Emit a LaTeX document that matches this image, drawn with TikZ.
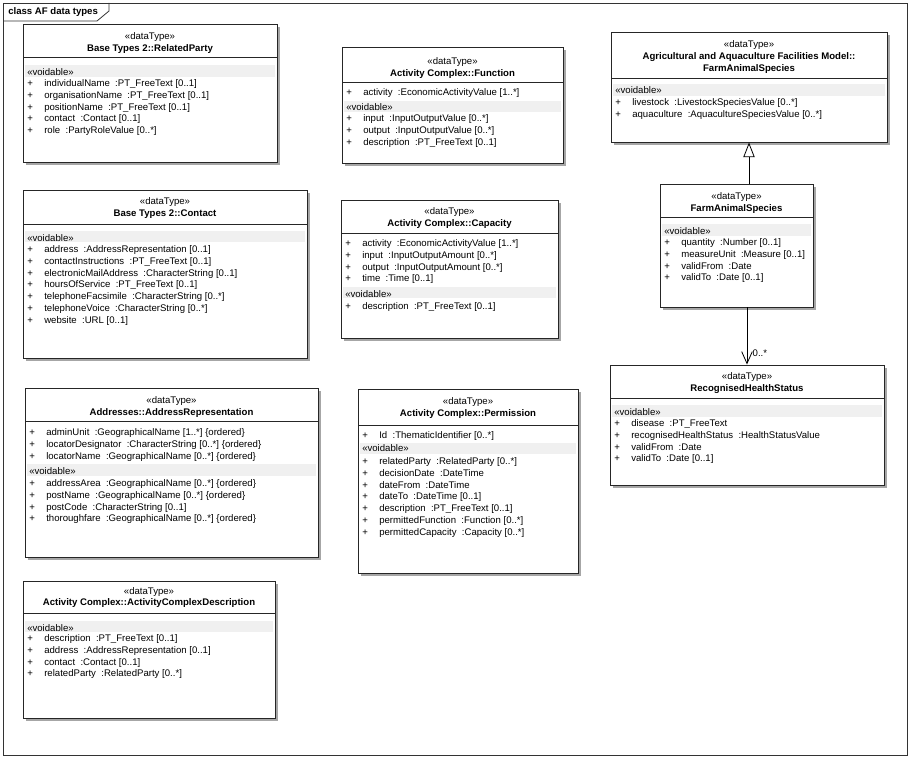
\documentclass[tikz,border=0pt]{standalone}
\usepackage{fontspec}
\usepackage{tikz}
\usetikzlibrary{arrows.meta,positioning,fit,shadows}
\newfontfamily\eafont{Liberation Sans}
\newcommand{\attrplus}{\makebox[12.75pt][l]{+}}

\begin{document}
\begin{tikzpicture}[
        x=0.75pt, y=-0.75pt,
        every node/.style={font=\eafont\fontsize{7.2}{8.8}\selectfont, inner sep=0pt},
        frame/.style={draw=black!80, line width=0.6pt},
        classbox/.style={
            draw=black!85,
            fill=white,
            line width=0.7pt,
            inner sep=0pt,
            drop shadow={shadow xshift=2pt, shadow yshift=-2pt, fill=black!35, opacity=1}
        },
        header/.style={align=center},
        compsep/.style={draw=black!85, line width=0.7pt},
        band/.style={fill=black!6},
        vlabel/.style={anchor=north west},
        attrs/.style={anchor=north west, align=left},
        gen/.style={-{Triangle[open, length=11pt, width=8.5pt]}, line width=0.6pt},
        assoc/.style={-{Straight Barb[length=9pt, width=8pt]}, line width=0.6pt},
        mult/.style={font=\eafont\fontsize{7.2}{8.8}\selectfont}
    ]
    \useasboundingbox (0,0) rectangle (910,759);

    % diagram frame
    \draw[frame] (3,3) rectangle (907,755);
    \draw[frame] (3,21) -- (97,21) -- (109,11) -- (109,3);
    \node[anchor=west] (title) at (8,12.5) {\textbf{class AF data types}};

    % Base Types 2::RelatedParty
    \node[classbox, fit={(23,24) (277,162)}] (relatedparty) {};
    \node[header] (relatedparty-h) at (150,43) {«dataType»\\\textbf{Base Types 2::RelatedParty}};
    \draw[compsep] (23,57) -- (277,57);
    \fill[band] (25,65) rectangle (275,77);
    \node[vlabel] (relatedparty-v) at (27,68.5) {«voidable»};
    \node[attrs] (relatedparty-a) at (27,79.5) {%
        \attrplus individualName~~:PT\_FreeText [0..1]\\
        \attrplus organisationName~~:PT\_FreeText [0..1]\\
        \attrplus positionName~~:PT\_FreeText [0..1]\\
        \attrplus contact~~:Contact [0..1]\\
        \attrplus role~~:PartyRoleValue [0..*]};

    % Activity Complex::Function
    \node[classbox, fit={(342,47) (563,163)}] (function) {};
    \node[header] (function-h) at (452.5,68) {«dataType»\\\textbf{Activity Complex::Function}};
    \draw[compsep] (342,82) -- (563,82);
    \node[attrs] (function-a) at (346,88.5) {\attrplus activity~~:EconomicActivityValue [1..*]};
    \fill[band] (344,101) rectangle (561,112);
    \node[vlabel] (function-v) at (346,103.5) {«voidable»};
    \node[attrs] (function-b) at (346,114.5) {%
        \attrplus input~~:InputOutputValue [0..*]\\
        \attrplus output~~:InputOutputValue [0..*]\\
        \attrplus description~~:PT\_FreeText [0..1]};

    % Agricultural and Aquaculture Facilities Model::FarmAnimalSpecies
    \node[classbox, fit={(611,32) (887,142)}] (agrispecies) {};
    \node[header] (agrispecies-h) at (749,57) {«dataType»\\\textbf{Agricultural and Aquaculture Facilities Model::}\\\textbf{FarmAnimalSpecies}};
    \draw[compsep] (611,78) -- (887,78);
    \fill[band] (613,84.5) rectangle (885,96);
    \node[vlabel] (agrispecies-v) at (615,86.5) {«voidable»};
    \node[attrs] (agrispecies-a) at (615,98.5) {%
        \attrplus livestock~~:LivestockSpeciesValue [0..*]\\
        \attrplus aquaculture~~:AquacultureSpeciesValue [0..*]};

    % FarmAnimalSpecies
    \node[classbox, fit={(660,184) (813,307)}] (farmanimal) {};
    \node[header] (farmanimal-h) at (736.5,203) {«dataType»\\\textbf{FarmAnimalSpecies}};
    \draw[compsep] (660,217) -- (813,217);
    \fill[band] (662,224) rectangle (811,236);
    \node[vlabel] (farmanimal-v) at (664,227.5) {«voidable»};
    \node[attrs] (farmanimal-a) at (664,238.5) {%
        \attrplus quantity~~:Number [0..1]\\
        \attrplus measureUnit~~:Measure [0..1]\\
        \attrplus validFrom~~:Date\\
        \attrplus validTo~~:Date [0..1]};

    % RecognisedHealthStatus
    \node[classbox, fit={(610,365) (884,485)}] (health) {};
    \node[header] (health-h) at (747,383) {«dataType»\\\textbf{RecognisedHealthStatus}};
    \draw[compsep] (610,398) -- (884,398);
    \fill[band] (612,405) rectangle (882,417);
    \node[vlabel] (health-v) at (614,408.5) {«voidable»};
    \node[attrs] (health-a) at (614,419.5) {%
        \attrplus disease~~:PT\_FreeText\\
        \attrplus recognisedHealthStatus~~:HealthStatusValue\\
        \attrplus validFrom~~:Date\\
        \attrplus validTo~~:Date [0..1]};

    % Base Types 2::Contact
    \node[classbox, fit={(23,190) (307,358)}] (contact) {};
    \node[header] (contact-h) at (165,208) {«dataType»\\\textbf{Base Types 2::Contact}};
    \draw[compsep] (23,224) -- (307,224);
    \fill[band] (25,231) rectangle (305,242);
    \node[vlabel] (contact-v) at (27,234) {«voidable»};
    \node[attrs] (contact-a) at (27,245.5) {%
        \attrplus address~~:AddressRepresentation [0..1]\\
        \attrplus contactInstructions~~:PT\_FreeText [0..1]\\
        \attrplus electronicMailAddress~~:CharacterString [0..1]\\
        \attrplus hoursOfService~~:PT\_FreeText [0..1]\\
        \attrplus telephoneFacsimile~~:CharacterString [0..*]\\
        \attrplus telephoneVoice~~:CharacterString [0..*]\\
        \attrplus website~~:URL [0..1]};

    % Activity Complex::Capacity
    \node[classbox, fit={(341,200) (558,338)}] (capacity) {};
    \node[header] (capacity-h) at (449.5,218) {«dataType»\\\textbf{Activity Complex::Capacity}};
    \draw[compsep] (341,233) -- (558,233);
    \node[attrs] (capacity-a) at (345,239.5) {%
        \attrplus activity~~:EconomicActivityValue [1..*]\\
        \attrplus input~~:InputOutputAmount [0..*]\\
        \attrplus output~~:InputOutputAmount [0..*]\\
        \attrplus time~~:Time [0..1]};
    \fill[band] (343,287.5) rectangle (556,298.5);
    \node[vlabel] (capacity-v) at (345,290.5) {«voidable»};
    \node[attrs] (capacity-b) at (345,302.5) {\attrplus description~~:PT\_FreeText [0..1]};

    % Addresses::AddressRepresentation
    \node[classbox, fit={(25,388) (318,557)}] (address) {};
    \node[header] (address-h) at (171.5,407) {«dataType»\\\textbf{Addresses::AddressRepresentation}};
    \draw[compsep] (25,421) -- (318,421);
    \node[attrs] (address-a) at (29,428.5) {%
        \attrplus adminUnit~~:GeographicalName [1..*] \{ordered\}\\
        \attrplus locatorDesignator~~:CharacterString [0..*] \{ordered\}\\
        \attrplus locatorName~~:GeographicalName [0..*] \{ordered\}};
    \fill[band] (27,464) rectangle (316,476);
    \node[vlabel] (address-v) at (29,467) {«voidable»};
    \node[attrs] (address-b) at (29,479.5) {%
        \attrplus addressArea~~:GeographicalName [0..*] \{ordered\}\\
        \attrplus postName~~:GeographicalName [0..*] \{ordered\}\\
        \attrplus postCode~~:CharacterString [0..1]\\
        \attrplus thoroughfare~~:GeographicalName [0..*] \{ordered\}};

    % Activity Complex::Permission
    \node[classbox, fit={(358,389) (578,573)}] (permission) {};
    \node[header] (permission-h) at (468,408) {«dataType»\\\textbf{Activity Complex::Permission}};
    \draw[compsep] (358,425) -- (578,425);
    \node[attrs] (permission-a) at (362,431.5) {\attrplus Id~~:ThematicIdentifier [0..*]};
    \fill[band] (360,442.5) rectangle (576,454);
    \node[vlabel] (permission-v) at (362,444.5) {«voidable»};
    \node[attrs] (permission-b) at (362,457.5) {%
        \attrplus relatedParty~~:RelatedParty [0..*]\\
        \attrplus decisionDate~~:DateTime\\
        \attrplus dateFrom~~:DateTime\\
        \attrplus dateTo~~:DateTime [0..1]\\
        \attrplus description~~:PT\_FreeText [0..1]\\
        \attrplus permittedFunction~~:Function [0..*]\\
        \attrplus permittedCapacity~~:Capacity [0..*]};

    % Activity Complex::ActivityComplexDescription
    \node[classbox, fit={(23,581) (275,718)}] (description) {};
    \node[header] (description-h) at (149,597.5) {«dataType»\\\textbf{Activity Complex::ActivityComplexDescription}};
    \draw[compsep] (23,613) -- (275,613);
    \fill[band] (25,621) rectangle (273,632);
    \node[vlabel] (description-v) at (27,624) {«voidable»};
    \node[attrs] (description-a) at (27,634.5) {%
        \attrplus description~~:PT\_FreeText [0..1]\\
        \attrplus address~~:AddressRepresentation [0..1]\\
        \attrplus contact~~:Contact [0..1]\\
        \attrplus relatedParty~~:RelatedParty [0..*]};

    % connectors
    \draw[gen] (farmanimal.north -| agrispecies.south) -- (agrispecies.south);
    \draw[assoc] (farmanimal.south -| health.north) -- (health.north)
        node[mult, pos=0.8, right=4pt] {0..*};

\end{tikzpicture}
\end{document}
